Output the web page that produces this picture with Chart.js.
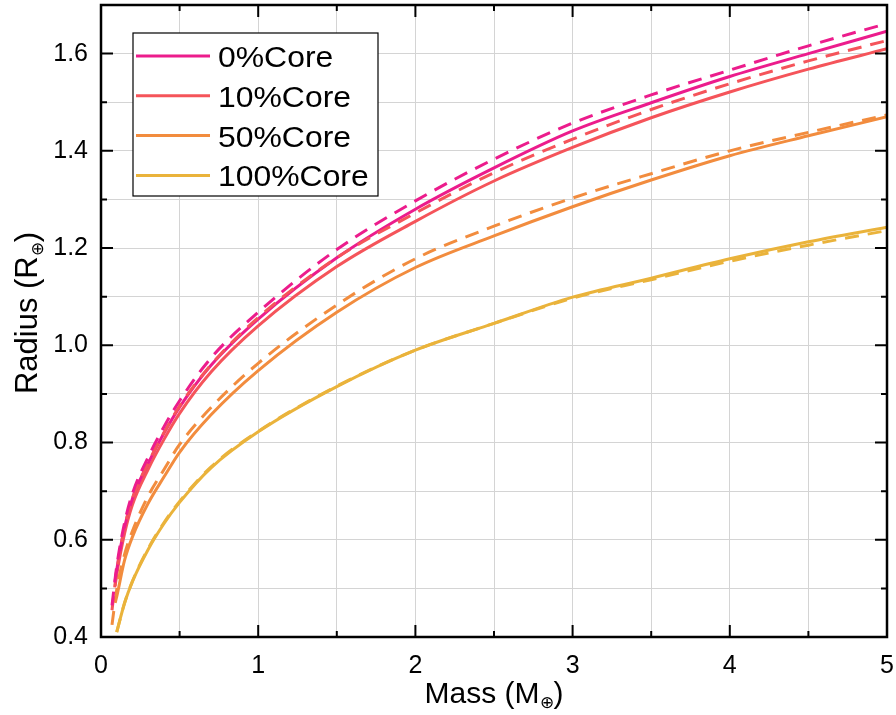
<!DOCTYPE html>
<html>
<head>
<meta charset="utf-8">
<script src="https://cdn.jsdelivr.net/npm/chart.js@4.4.0/dist/chart.umd.min.js"></script>
<style>
  html, body { margin: 0; padding: 0; background: #fff; }
  #wrap { width: 896px; height: 715px; }
</style>
</head>
<body>
<div id="wrap"><canvas id="chart"></canvas></div>
<script>
// masses (Earth masses)
const massSolid  = [0.09, 0.1, 0.15, 0.2, 0.3, 0.4, 0.5, 0.7, 1, 1.5, 2, 2.5, 3, 3.5, 4, 4.5, 5];
const massDashed = [0.07, 0.1, 0.15, 0.2, 0.3, 0.4, 0.5, 0.7, 1, 1.5, 2, 2.5, 3, 3.5, 4, 4.5, 5];

// radii (Earth radii), solid curves
const r0Solid   = [0.515, 0.538, 0.626, 0.685, 0.757, 0.819, 0.873, 0.959, 1.054, 1.180, 1.280, 1.365, 1.441, 1.499, 1.553, 1.600, 1.646];
const r10Solid  = [0.505, 0.528, 0.613, 0.672, 0.745, 0.806, 0.860, 0.945, 1.040, 1.162, 1.255, 1.338, 1.407, 1.468, 1.521, 1.568, 1.610];
const r50Solid  = [0.470, 0.483, 0.558, 0.606, 0.675, 0.729, 0.780, 0.857, 0.948, 1.068, 1.160, 1.225, 1.285, 1.340, 1.390, 1.431, 1.470];
const r100Solid = [null, 0.410, 0.470, 0.514, 0.580, 0.633, 0.677, 0.748, 0.822, 0.915, 0.990, 1.045, 1.099, 1.138, 1.178, 1.213, 1.243];

// dashed curves
const r0Dashed   = [0.465, 0.545, 0.635, 0.695, 0.770, 0.832, 0.886, 0.974, 1.068, 1.197, 1.297, 1.383, 1.457, 1.515, 1.566, 1.616, 1.662];
const r10Dashed  = [0.455, 0.535, 0.625, 0.685, 0.758, 0.820, 0.875, 0.960, 1.057, 1.180, 1.272, 1.355, 1.424, 1.485, 1.538, 1.585, 1.627];
const r50Dashed  = [0.425, 0.497, 0.570, 0.618, 0.690, 0.744, 0.796, 0.872, 0.963, 1.083, 1.178, 1.245, 1.303, 1.353, 1.400, 1.438, 1.474];
const r100Dashed = [null, 0.410, 0.470, 0.515, 0.582, 0.635, 0.679, 0.750, 0.823, 0.916, 0.990, 1.045, 1.097, 1.135, 1.173, 1.206, 1.236];

const seriesNames  = ['0%Core', '10%Core', '50%Core', '100%Core'];
const seriesColors = ['#EC1C8C', '#F5545A', '#F28C3E', '#EAB33B'];

const FONT = "'Liberation Sans', Arial, sans-serif";

const pts = (xs, ys) => xs.map((x, i) => ({ x: x, y: ys[i] }));

const solid  = [r0Solid, r10Solid, r50Solid, r100Solid];
const dashed = [r0Dashed, r10Dashed, r50Dashed, r100Dashed];

const datasets = [];
dashed.forEach((ys, i) => datasets.push({
  label: seriesNames[i] + ' dashed',
  data: pts(massDashed, ys),
  borderColor: seriesColors[i],
  borderWidth: 3,
  borderDash: [14, 9],
  pointRadius: 0,
  cubicInterpolationMode: 'monotone',
  fill: false
}));
solid.forEach((ys, i) => datasets.push({
  label: seriesNames[i],
  data: pts(massSolid, ys),
  borderColor: seriesColors[i],
  borderWidth: 3,
  pointRadius: 0,
  cubicInterpolationMode: 'monotone',
  fill: false
}));

// frame, inward ticks, titles, legend
const decor = {
  id: 'decor',
  afterDraw(chart) {
    const ctx = chart.ctx;
    const a = chart.chartArea;
    const xs = chart.scales.x, ys = chart.scales.y;
    ctx.save();

    // ticks
    ctx.strokeStyle = '#000';
    ctx.lineWidth = 2;
    ctx.beginPath();
    for (let k = 0; k <= 10; k++) {
      const px = xs.getPixelForValue(k * 0.5);
      const len = k % 2 === 0 ? 12 : 6;
      ctx.moveTo(px, a.bottom); ctx.lineTo(px, a.bottom - len);
      ctx.moveTo(px, a.top); ctx.lineTo(px, a.top + len);
    }
    for (let k = 4; k <= 17; k++) {
      const py = ys.getPixelForValue(k / 10);
      const len = k % 2 === 0 ? 12 : 6;
      ctx.moveTo(a.left, py); ctx.lineTo(a.left + len, py);
      ctx.moveTo(a.right, py); ctx.lineTo(a.right - len, py);
    }
    ctx.stroke();

    // frame
    ctx.lineWidth = 2.5;
    ctx.strokeRect(a.left, a.top, a.right - a.left, a.bottom - a.top);

    // axis titles with subscript
    ctx.fillStyle = '#000';
    const drawTitle = (main, sub, size) => {
      const subSize = Math.round(size * 0.55);
      ctx.font = size + 'px ' + FONT;
      const w1 = ctx.measureText(main).width;
      const w3 = ctx.measureText(')').width;
      ctx.font = subSize + 'px ' + FONT;
      const w2 = ctx.measureText(sub).width;
      let x = -(w1 + w2 + w3) / 2;
      ctx.textAlign = 'left';
      ctx.textBaseline = 'alphabetic';
      ctx.font = size + 'px ' + FONT;
      ctx.fillText(main, x, 0);
      x += w1;
      ctx.font = subSize + 'px ' + FONT;
      ctx.fillText(sub, x, size * 0.18);
      x += w2;
      ctx.font = size + 'px ' + FONT;
      ctx.fillText(')', x, 0);
    };
    ctx.save();
    ctx.translate((a.left + a.right) / 2, 703);
    drawTitle('Mass (M', '\u2295', 30);
    ctx.restore();

    ctx.save();
    ctx.translate(37, (a.top + a.bottom) / 2 - 8);
    ctx.rotate(-Math.PI / 2);
    drawTitle('Radius (R', '\u2295', 31);
    ctx.restore();

    // legend
    const bx = 133, by = 33, bw = 245, bh = 163;
    ctx.fillStyle = '#fff';
    ctx.fillRect(bx, by, bw, bh);
    ctx.lineWidth = 1.2;
    ctx.strokeStyle = '#000';
    ctx.strokeRect(bx, by, bw, bh);
    seriesNames.forEach((name, i) => {
      const ry = 56 + i * 39.8;
      ctx.strokeStyle = seriesColors[i];
      ctx.lineWidth = 3;
      ctx.beginPath();
      ctx.moveTo(136, ry); ctx.lineTo(210, ry);
      ctx.stroke();
      ctx.save();
      ctx.translate(218, ry + 11);
      ctx.scale(1.1, 1);
      ctx.fillStyle = '#000';
      ctx.font = '29px ' + FONT;
      ctx.textAlign = 'left';
      ctx.textBaseline = 'alphabetic';
      ctx.fillText(name, 0, 0);
      ctx.restore();
    });

    ctx.restore();
  }
};

new Chart(document.getElementById('chart'), {
  type: 'line',
  data: { datasets: datasets },
  options: {
    responsive: true,
    maintainAspectRatio: false,
    animation: false,
    layout: { padding: { top: 5, right: 9, left: 0, bottom: 0 } },
    plugins: {
      legend: { display: false },
      tooltip: { enabled: false }
    },
    scales: {
      x: {
        type: 'linear',
        min: 0,
        max: 5,
        ticks: {
          stepSize: 0.5,
          autoSkip: false,
          maxRotation: 0,
          padding: 14,
          color: '#000',
          font: { family: FONT, size: 25 },
          callback: v => Number.isInteger(v) ? String(v) : ''
        },
        grid: { color: '#d4d4d4', lineWidth: 1, drawTicks: false },
        border: { display: false },
        afterFit: s => { s.height = 78; s.paddingLeft = 0; s.paddingRight = 0; }
      },
      y: {
        type: 'linear',
        min: 0.4,
        max: 1.7,
        ticks: {
          stepSize: 0.1,
          autoSkip: false,
          padding: 13,
          color: '#000',
          font: { family: FONT, size: 25 },
          callback: v => {
            const k = Math.round(v * 10);
            return (k % 2 === 0 && k <= 16) ? (k / 10).toFixed(1) : '';
          }
        },
        grid: { color: '#d4d4d4', lineWidth: 1, drawTicks: false },
        border: { display: false },
        afterFit: s => { s.width = 101; s.paddingTop = 0; s.paddingBottom = 0; }
      }
    }
  },
  plugins: [decor]
});
</script>
</body>
</html>
